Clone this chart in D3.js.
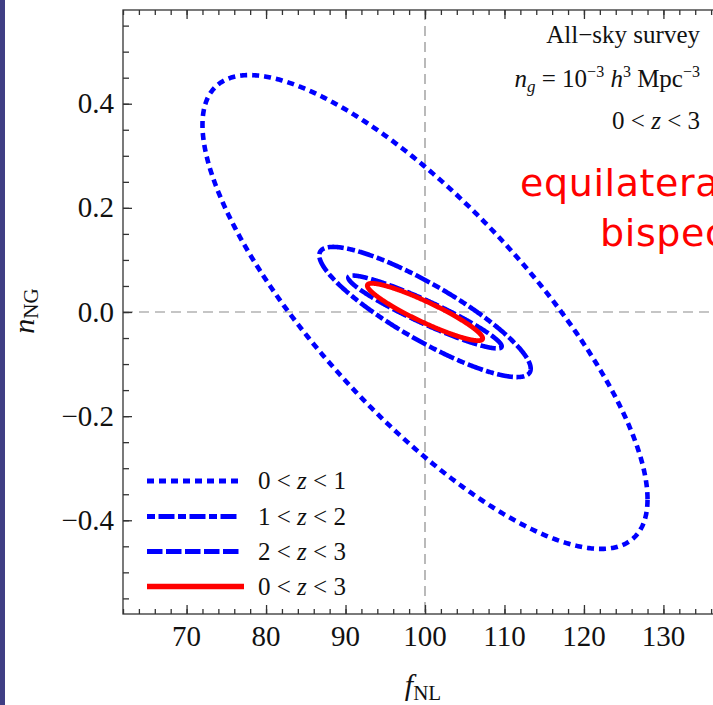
<!DOCTYPE html>
<html><head><meta charset="utf-8">
<script src="https://cdn.jsdelivr.net/npm/d3@7"></script>
<style>
html,body{margin:0;padding:0;background:#fff;overflow:hidden;}
svg{display:block;}
</style></head>
<body>
<script>
// ---- data ----
const series = ["0 < z < 1", "1 < z < 2", "2 < z < 3", "0 < z < 3"];
const zLow = ["0", "1", "2", "0"];
const zHigh = ["1", "2", "3", "3"];
const fidFNL = 100, fidNNG = 0;
const fHalfWidth = [28.0, 13.3, 9.65, 7.26];      // f_NL half-extent of each contour
const nHalfHeight = [0.455, 0.125, 0.07, 0.055];  // n_NG half-extent of each contour
const correlation = [-0.79, -0.87, -0.94, -0.92]; // correlation coefficient
const xTicks = [70, 80, 90, 100, 110, 120, 130];
const yTicks = [0.4, 0.2, 0.0, -0.2, -0.4];
const yTickLabels = ["0.4", "0.2", "0.0", "\u22120.2", "\u22120.4"];

// ---- styles ----
const colors = ["#0000ff", "#0000ff", "#0000ff", "#ff0000"];
const dashes = ["7,5", "8,3.5,16,3.5", "15.5,3.5", null];
const widths = [4.6, 4.6, 4.6, 4.8];

const W = 713, H = 705;
const svg = d3.select("body").append("svg").attr("width", W).attr("height", H);

// left dark border
svg.append("rect").attr("x", 0).attr("y", 0).attr("width", 5).attr("height", H).attr("fill", "#3f3e84");

const x = d3.scaleLinear().domain([62, 138]).range([123, 727]);
const y = d3.scaleLinear().domain([-0.58, 0.58]).range([614, 10]);

const serif = "'Liberation Serif','Times New Roman',serif";

// crosshair
svg.append("line").attr("x1", x(fidFNL)).attr("x2", x(fidFNL)).attr("y1", y(0.58)).attr("y2", y(-0.58))
  .attr("stroke", "#8c8c8c").attr("stroke-width", 1.2).attr("stroke-dasharray", "10,6");
svg.append("line").attr("x1", x(62)).attr("x2", x(138)).attr("y1", y(fidNNG)).attr("y2", y(fidNNG))
  .attr("stroke", "#8c8c8c").attr("stroke-width", 1.2).attr("stroke-dasharray", "10,6");

// ellipses
const line = d3.line().x(d => x(d[0])).y(d => y(d[1])).curve(d3.curveLinearClosed);
function ellipse(i) {
  const pts = [];
  const r = correlation[i], s = Math.sqrt(1 - r * r);
  for (let k = 0; k < 720; k++) {
    const t = k / 720 * 2 * Math.PI;
    pts.push([fidFNL + fHalfWidth[i] * Math.cos(t),
              fidNNG + nHalfHeight[i] * (r * Math.cos(t) + s * Math.sin(t))]);
  }
  return pts;
}
series.forEach((s, i) => {
  svg.append("path").attr("d", line(ellipse(i))).attr("fill", "none")
    .attr("stroke", colors[i]).attr("stroke-width", widths[i])
    .attr("stroke-dasharray", dashes[i]).attr("stroke-linejoin", "round");
});

// frame
const frame = svg.append("g").attr("stroke", "#333").attr("stroke-width", 1.3).attr("fill", "none");
frame.append("rect").attr("x", 123).attr("y", 10).attr("width", 604).attr("height", 604);

// axes (ticks)
const xMinor = d3.range(62, 139, 2);
const yMinor = d3.range(-55, 56, 5).map(v => v / 100);
const axB = d3.axisBottom(x).tickValues(xMinor).tickSize(-5).tickFormat("");
const axT = d3.axisTop(x).tickValues(xMinor).tickSize(-5).tickFormat("");
const axL = d3.axisLeft(y).tickValues(yMinor).tickSize(-6).tickFormat("");
svg.append("g").attr("transform", "translate(0,614)").call(axB);
svg.append("g").attr("transform", "translate(0,10)").call(axT);
svg.append("g").attr("transform", "translate(123,0)").call(axL);
const axBM = d3.axisBottom(x).tickValues(xTicks).tickSize(-9).tickFormat("");
const axTM = d3.axisTop(x).tickValues(xTicks).tickSize(-9).tickFormat("");
const axLM = d3.axisLeft(y).tickValues(yTicks).tickSize(-9).tickFormat("");
svg.append("g").attr("transform", "translate(0,614)").call(axBM);
svg.append("g").attr("transform", "translate(0,10)").call(axTM);
svg.append("g").attr("transform", "translate(123,0)").call(axLM);
svg.selectAll(".domain").remove();
svg.selectAll(".tick line").attr("stroke", "#333").attr("stroke-width", 1.3);

// tick labels
svg.append("g").selectAll("text").data(xTicks).join("text")
  .attr("x", d => x(d)).attr("y", 646).attr("text-anchor", "middle")
  .attr("font-family", serif).attr("font-size", 29).attr("fill", "#111").text(d => d);
svg.append("g").selectAll("text").data(yTicks).join("text")
  .attr("x", 114).attr("y", d => y(d) + 9.5).attr("text-anchor", "end")
  .attr("font-family", serif).attr("font-size", 29).attr("fill", "#111").text((d, i) => yTickLabels[i]);

// axis titles
const xt = svg.append("text").attr("x", 423).attr("y", 695).attr("text-anchor", "middle")
  .attr("font-family", serif).attr("font-size", 30).attr("fill", "#111");
xt.append("tspan").attr("font-style", "italic").text("f");
xt.append("tspan").attr("font-size", 21).attr("dy", 5).text("NL");
const yt = svg.append("text").attr("transform", "translate(34,311) rotate(-90)").attr("text-anchor", "middle")
  .attr("font-family", serif).attr("font-size", 30).attr("fill", "#111");
yt.append("tspan").attr("font-style", "italic").text("n");
yt.append("tspan").attr("font-size", 21).attr("dy", 4).text("NG");

// annotations top-right
const ann = svg.append("g").attr("font-family", serif).attr("font-size", 25).attr("fill", "#111").attr("text-anchor", "end");
ann.append("text").attr("x", 700).attr("y", 43).text("All\u2212sky survey");
const t2 = ann.append("text").attr("x", 700).attr("y", 87);
t2.append("tspan").attr("font-style", "italic").text("n");
t2.append("tspan").attr("font-style", "italic").attr("font-size", 17).attr("dy", 5).text("g");
t2.append("tspan").attr("dy", -5).text(" = 10");
t2.append("tspan").attr("font-size", 16).attr("dy", -10).text("\u22123");
t2.append("tspan").attr("dy", 10).attr("font-style", "italic").text(" h");
t2.append("tspan").attr("font-size", 16).attr("dy", -10).text("3");
t2.append("tspan").attr("dy", 10).text(" Mpc");
t2.append("tspan").attr("font-size", 16).attr("dy", -10).text("\u22123");
const t3 = ann.append("text").attr("x", 700).attr("y", 129);
t3.append("tspan").text("0 < ");
t3.append("tspan").attr("font-style", "italic").text("z");
t3.append("tspan").text(" < 3");

// red annotation
const red = svg.append("g").attr("font-family", "'DejaVu Sans',Verdana,sans-serif").attr("font-size", 38).attr("fill", "#ff0000");
red.append("text").attr("x", 520).attr("y", 196).attr("letter-spacing", 0.6).text("equilateral");
red.append("text").attr("x", 600).attr("y", 246).attr("letter-spacing", 0.6).text("bispectrum");

// legend
const leg = svg.append("g");
const legY = [481, 516.5, 551.5, 586.5];
series.forEach((s, i) => {
  leg.append("line").attr("x1", 147).attr("x2", i === 3 ? 244 : 240).attr("y1", legY[i]).attr("y2", legY[i])
    .attr("stroke", colors[i]).attr("stroke-width", i === 3 ? 5.5 : 5).attr("stroke-dasharray", dashes[i]);
  const tx = leg.append("text").attr("x", 258).attr("y", legY[i] + 8)
    .attr("font-family", serif).attr("font-size", 25).attr("fill", "#111");
  tx.append("tspan").text(zLow[i] + " < ");
  tx.append("tspan").attr("font-style", "italic").text("z");
  tx.append("tspan").text(" < " + zHigh[i]);
});
</script>
</body></html>
